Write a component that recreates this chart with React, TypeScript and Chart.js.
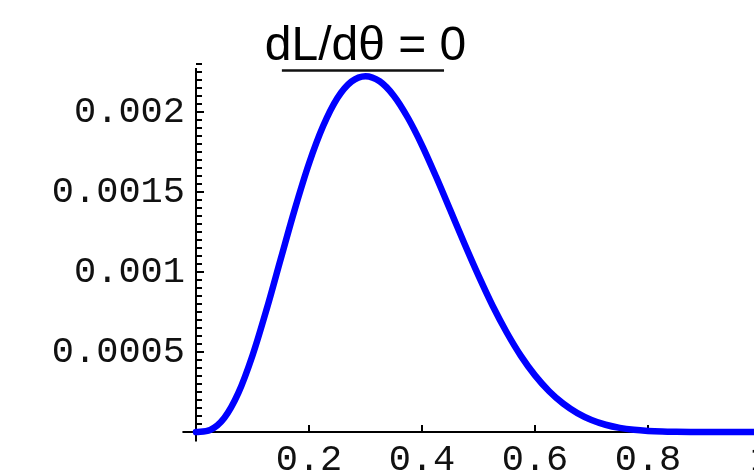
import React, { useEffect, useRef } from "react";
import { Chart, registerables } from "chart.js";

Chart.register(...registerables);

// ---- data ----
const thetaValues = [
  0, 0.025, 0.05, 0.075, 0.1, 0.125, 0.15, 0.175, 0.2, 0.225, 0.25, 0.275, 0.3,
  0.325, 0.35, 0.375, 0.4, 0.425, 0.45, 0.475, 0.5, 0.525, 0.55, 0.575, 0.6,
  0.625, 0.65, 0.675, 0.7, 0.725, 0.75, 0.775, 0.8, 0.825, 0.85, 0.875, 0.9,
  0.925, 0.95, 0.975, 1,
];
const likelihoodValues = [
  0, 0.0000131, 0.0000873, 0.000244, 0.000478, 0.000767, 0.001082, 0.001394,
  0.001678, 0.001912, 0.002086, 0.00219, 0.002224, 0.002192, 0.002102,
  0.001964, 0.001792, 0.001595, 0.001387, 0.001178, 0.000977, 0.000789,
  0.000622, 0.000476, 0.000354, 0.000255, 0.000177, 0.000118, 0.000075,
  0.0000453, 0.0000257, 0.0000136, 0.0000066, 0.0000028, 0.0000011, 0.0000003,
  0.0000001, 0, 0, 0, 0,
];
const xTickValues = [0.2, 0.4, 0.6, 0.8, 1];
const xTickLabels = ["0.2", "0.4", "0.6", "0.8", "1"];
const yTickValues = [0.0005, 0.001, 0.0015, 0.002];
const yTickLabels = ["0.0005", "0.001", "0.0015", "0.002"];
const yMinorStep = 0.00005;
const titleText = "dL/d\u03b8 = 0";
const peakTheta = 0.3;
const tangentTheta = [0.152, 0.439];
const tangentValue = [0.00226, 0.00226];

const X_MIN = 0;
const X_MAX = 1;
const Y_MIN = 0;
const Y_MAX = 0.002275;

const axesPlugin = {
  id: "mathematicaAxes",
  beforeDatasetsDraw(chart: any) {
    const { ctx, chartArea, scales } = chart;
    const xs = scales.x;
    const ys = scales.y;
    const x0 = xs.getPixelForValue(0);
    const y0 = ys.getPixelForValue(0);
    ctx.save();
    ctx.strokeStyle = "#000";
    ctx.lineWidth = 2;
    ctx.beginPath();
    ctx.moveTo(xs.getPixelForValue(-0.024), y0);
    ctx.lineTo(chartArea.right + 40, y0);
    ctx.moveTo(x0, ys.getPixelForValue(-0.00006));
    ctx.lineTo(x0, chartArea.top);
    ctx.stroke();
    ctx.lineWidth = 2;
    ctx.beginPath();
    // y ticks (inside, to the right of the axis)
    const nMinor = Math.round(Y_MAX / yMinorStep);
    for (let i = 1; i <= nMinor; i++) {
      const v = i * yMinorStep;
      const py = Math.round(ys.getPixelForValue(v));
      const major = yTickValues.some((t) => Math.abs(t - v) < 1e-9);
      ctx.moveTo(x0, py);
      ctx.lineTo(x0 + (major ? 8 : 6), py);
    }
    // x ticks (upwards from the axis)
    xTickValues.forEach((v) => {
      const px = Math.round(xs.getPixelForValue(v));
      ctx.moveTo(px, y0);
      ctx.lineTo(px, y0 - 7);
    });
    ctx.stroke();
    ctx.restore();
  },
  afterDraw(chart: any) {
    const { ctx, chartArea, scales } = chart;
    ctx.save();
    ctx.fillStyle = "#000";
    ctx.font = "48px 'Liberation Sans', Arial, sans-serif";
    ctx.textAlign = "center";
    ctx.textBaseline = "alphabetic";
    ctx.fillText(titleText, scales.x.getPixelForValue(peakTheta), chartArea.top - 8);
    ctx.restore();
  },
};

export default function App() {
  const canvasRef = useRef<HTMLCanvasElement | null>(null);

  useEffect(() => {
    const canvas = canvasRef.current;
    if (!canvas) return;
    const curve = thetaValues.map((t, i) => ({ x: t, y: likelihoodValues[i] }));
    const tangent = tangentTheta.map((t, i) => ({ x: t, y: tangentValue[i] }));
    const tickFont = { family: "'Liberation Mono', 'DejaVu Sans Mono', monospace", size: 37 };
    const chart = new Chart(canvas, {
      type: "line",
      data: {
        datasets: [
          {
            data: tangent,
            borderColor: "#111",
            borderWidth: 2.5,
            pointRadius: 0,
            clip: false,
          } as any,
          {
            data: curve,
            borderColor: "#0000ff",
            borderWidth: 6.5,
            pointRadius: 0,
            cubicInterpolationMode: "monotone",
            borderJoinStyle: "round",
            borderCapStyle: "round",
            clip: false,
          } as any,
        ],
      },
      options: {
        responsive: false,
        maintainAspectRatio: false,
        devicePixelRatio: 1,
        animation: false,
        events: [],
        layout: { padding: { top: 68, right: 39, left: 0, bottom: 0 } },
        plugins: {
          legend: { display: false },
          tooltip: { enabled: false },
          title: { display: false },
        },
        scales: {
          x: {
            type: "linear",
            min: X_MIN,
            max: X_MAX,
            grid: { display: false, drawTicks: false },
            border: { display: false },
            afterBuildTicks: (scale: any) => {
              scale.ticks = xTickValues.map((v) => ({ value: v }));
            },
            afterFit: (scale: any) => {
              scale.height = 43;
            },
            ticks: {
              autoSkip: false,
              maxRotation: 0,
              padding: 6,
              color: "#111",
              font: tickFont,
              callback: (v: any) => {
                const i = xTickValues.findIndex((t) => Math.abs(t - Number(v)) < 1e-9);
                return i >= 0 ? xTickLabels[i] : "";
              },
            },
          },
          y: {
            type: "linear",
            min: Y_MIN,
            max: Y_MAX,
            grid: { display: false, drawTicks: false },
            border: { display: false },
            afterBuildTicks: (scale: any) => {
              scale.ticks = yTickValues.map((v) => ({ value: v }));
            },
            afterFit: (scale: any) => {
              scale.width = 196;
            },
            ticks: {
              autoSkip: false,
              padding: 11,
              color: "#111",
              font: tickFont,
              callback: (v: any) => {
                const i = yTickValues.findIndex((t) => Math.abs(t - Number(v)) < 1e-12);
                return i >= 0 ? yTickLabels[i] : "";
              },
            },
          },
        },
      } as any,
      plugins: [axesPlugin],
    });
    return () => chart.destroy();
  }, []);

  return (
    <div
      style={{
        position: "absolute",
        left: 0,
        top: 0,
        width: 754,
        height: 475,
        overflow: "hidden",
        background: "#fff",
      }}
    >
      <canvas ref={canvasRef} width={800} height={475} style={{ display: "block" }} />
    </div>
  );
}
